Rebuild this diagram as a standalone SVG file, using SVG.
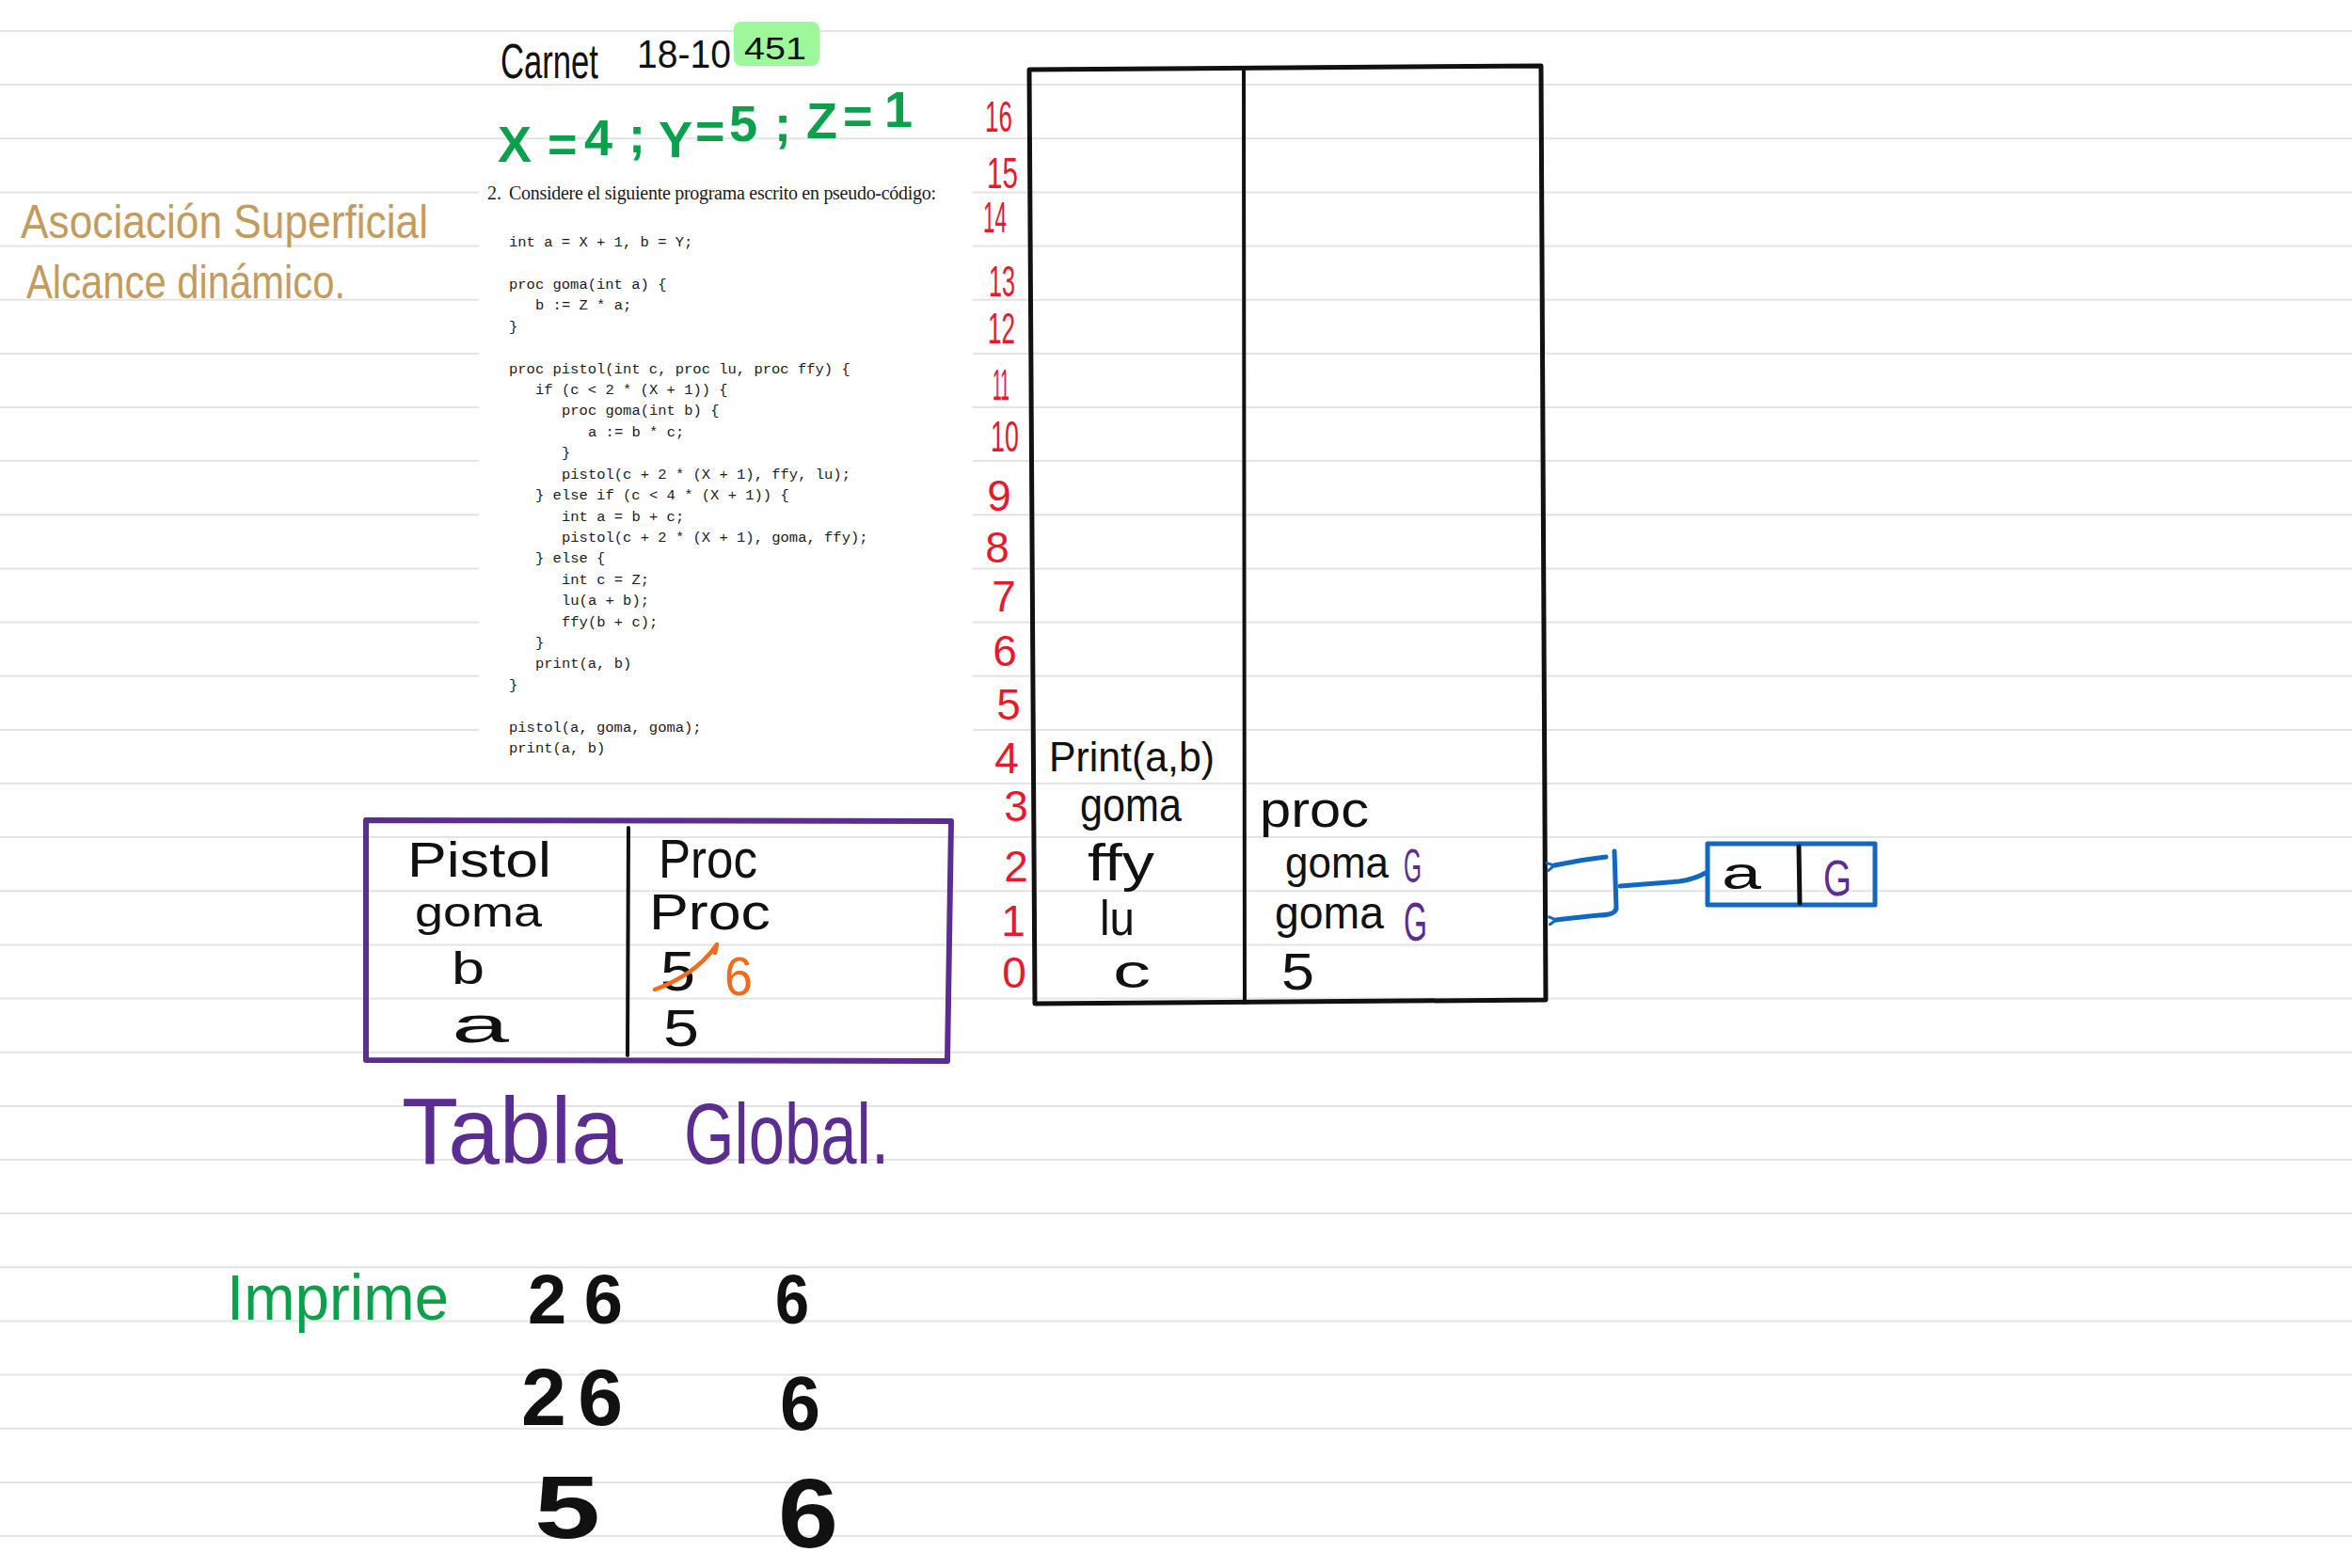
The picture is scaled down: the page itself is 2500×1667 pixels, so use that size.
<svg xmlns="http://www.w3.org/2000/svg" width="2500" height="1667" viewBox="0 0 2500 1667">
<defs>
<style>
.rule{stroke:#e4e4e4;stroke-width:2}
.hw{font-family:"Liberation Sans",Arial,sans-serif}
.k{fill:#111}
.red{fill:#e8192c}
.pur{fill:#5b2d91}
.grn{fill:#0ba14b}
.tan{fill:#c49b5e}
.org{fill:#f26a1b}
.mono{font-family:"Liberation Mono","Courier New",monospace;font-size:15.5px;fill:#1c1c1c}
.serif{font-family:"Liberation Serif","Times New Roman",serif;font-size:20px;fill:#1c1c1c}
.blk{fill:none;stroke:#111;stroke-linecap:round;stroke-linejoin:round}
.blue{fill:none;stroke:#1068c2;stroke-width:5;stroke-linecap:round;stroke-linejoin:round}
.purs{fill:none;stroke:#5b2d91;stroke-width:6;stroke-linecap:round;stroke-linejoin:round}
</style>
<marker id="hook" viewBox="-2 -6 12 12" markerWidth="12" markerHeight="12" refX="0" refY="0" orient="auto-start-reverse" markerUnits="userSpaceOnUse">
<path d="M7,-4 L0,0 L7,4" fill="none" stroke="#1068c2" stroke-width="3" stroke-linecap="round"/>
</marker>
</defs>
<rect width="2500" height="1667" fill="#fff"/>
<g id="ruled-lines">
<line class="rule" x1="0" y1="33" x2="2500" y2="33"/>
<line class="rule" x1="0" y1="90.1" x2="2500" y2="90.1"/>
<line class="rule" x1="0" y1="147.3" x2="2500" y2="147.3"/>
<line class="rule" x1="0" y1="204.4" x2="2500" y2="204.4"/>
<line class="rule" x1="0" y1="261.6" x2="2500" y2="261.6"/>
<line class="rule" x1="0" y1="318.7" x2="2500" y2="318.7"/>
<line class="rule" x1="0" y1="375.9" x2="2500" y2="375.9"/>
<line class="rule" x1="0" y1="433" x2="2500" y2="433"/>
<line class="rule" x1="0" y1="490.1" x2="2500" y2="490.1"/>
<line class="rule" x1="0" y1="547.3" x2="2500" y2="547.3"/>
<line class="rule" x1="0" y1="604.4" x2="2500" y2="604.4"/>
<line class="rule" x1="0" y1="661.6" x2="2500" y2="661.6"/>
<line class="rule" x1="0" y1="718.7" x2="2500" y2="718.7"/>
<line class="rule" x1="0" y1="775.9" x2="2500" y2="775.9"/>
<line class="rule" x1="0" y1="833" x2="2500" y2="833"/>
<line class="rule" x1="0" y1="890.1" x2="2500" y2="890.1"/>
<line class="rule" x1="0" y1="947.3" x2="2500" y2="947.3"/>
<line class="rule" x1="0" y1="1004.4" x2="2500" y2="1004.4"/>
<line class="rule" x1="0" y1="1061.6" x2="2500" y2="1061.6"/>
<line class="rule" x1="0" y1="1118.7" x2="2500" y2="1118.7"/>
<line class="rule" x1="0" y1="1175.9" x2="2500" y2="1175.9"/>
<line class="rule" x1="0" y1="1233" x2="2500" y2="1233"/>
<line class="rule" x1="0" y1="1290.1" x2="2500" y2="1290.1"/>
<line class="rule" x1="0" y1="1347.3" x2="2500" y2="1347.3"/>
<line class="rule" x1="0" y1="1404.4" x2="2500" y2="1404.4"/>
<line class="rule" x1="0" y1="1461.6" x2="2500" y2="1461.6"/>
<line class="rule" x1="0" y1="1518.7" x2="2500" y2="1518.7"/>
<line class="rule" x1="0" y1="1575.9" x2="2500" y2="1575.9"/>
<line class="rule" x1="0" y1="1633" x2="2500" y2="1633"/>
</g>

<g id="header">
<rect x="780" y="23" width="91" height="47" rx="8" fill="#9ef79a"/>
<text class="hw k" x="532" y="83" font-size="52" textLength="104" lengthAdjust="spacingAndGlyphs">Carnet</text>
<text class="hw k" x="677" y="72" font-size="42" textLength="100" lengthAdjust="spacingAndGlyphs">18-10</text>
<text class="hw k" x="791" y="63" font-size="33" textLength="66" lengthAdjust="spacingAndGlyphs">451</text>
<text class="hw grn" font-size="54" font-weight="700" x="529 582 621 668" y="172 172 165 162">X=4;</text>
<text class="hw grn" font-size="54" font-weight="700" x="700 739 775 823" y="167 158 150 150">Y=5;</text>
<text class="hw grn" font-size="54" font-weight="700" x="857 896 940" y="147 142 135">Z=1</text>
</g>

<g id="note">
<text class="hw tan" x="22" y="253" font-size="50" textLength="433" lengthAdjust="spacingAndGlyphs">Asociación Superficial</text>
<text class="hw tan" x="28" y="317" font-size="50" textLength="339" lengthAdjust="spacingAndGlyphs">Alcance dinámico.</text>
</g>

<g id="code">
<rect x="509" y="185" width="525" height="630" fill="#fff"/>
<text class="serif" x="518" y="212">2.</text>
<text class="serif" x="541" y="212" textLength="454" lengthAdjust="spacing">Considere el siguiente programa escrito en pseudo-código:</text>
<text class="mono" x="541" y="262">int a = X + 1, b = Y;</text>
<text class="mono" x="541" y="306.8">proc goma(int a) {</text>
<text class="mono" x="569" y="329.3">b := Z * a;</text>
<text class="mono" x="541" y="351.7">}</text>
<text class="mono" x="541" y="396.5">proc pistol(int c, proc lu, proc ffy) {</text>
<text class="mono" x="569" y="418.9">if (c &lt; 2 * (X + 1)) {</text>
<text class="mono" x="597" y="441.4">proc goma(int b) {</text>
<text class="mono" x="625" y="463.8">a := b * c;</text>
<text class="mono" x="597" y="486.2">}</text>
<text class="mono" x="597" y="508.6">pistol(c + 2 * (X + 1), ffy, lu);</text>
<text class="mono" x="569" y="531">} else if (c &lt; 4 * (X + 1)) {</text>
<text class="mono" x="597" y="553.5">int a = b + c;</text>
<text class="mono" x="597" y="575.9">pistol(c + 2 * (X + 1), goma, ffy);</text>
<text class="mono" x="569" y="598.3">} else {</text>
<text class="mono" x="597" y="620.7">int c = Z;</text>
<text class="mono" x="597" y="643.1">lu(a + b);</text>
<text class="mono" x="597" y="665.6">ffy(b + c);</text>
<text class="mono" x="569" y="688">}</text>
<text class="mono" x="569" y="710.4">print(a, b)</text>
<text class="mono" x="541" y="732.8">}</text>
<text class="mono" x="541" y="777.7">pistol(a, goma, goma);</text>
<text class="mono" x="541" y="800.1">print(a, b)</text>
</g>

<g id="stack-indices" class="hw red" font-size="46">
<text x="1047" y="140" textLength="29" lengthAdjust="spacingAndGlyphs">16</text>
<text x="1049" y="200" textLength="33" lengthAdjust="spacingAndGlyphs">15</text>
<text x="1045" y="247" textLength="25" lengthAdjust="spacingAndGlyphs">14</text>
<text x="1051" y="315" textLength="28" lengthAdjust="spacingAndGlyphs">13</text>
<text x="1050" y="365" textLength="29" lengthAdjust="spacingAndGlyphs">12</text>
<text x="1055" y="425" textLength="18" lengthAdjust="spacingAndGlyphs">11</text>
<text x="1053" y="480" textLength="30" lengthAdjust="spacingAndGlyphs">10</text>
<g text-anchor="middle">
<text x="1062" y="543">9</text>
<text x="1060" y="598">8</text>
<text x="1067" y="650">7</text>
<text x="1068" y="708">6</text>
<text x="1072" y="765">5</text>
<text x="1070" y="822">4</text>
<text x="1080" y="873">3</text>
<text x="1080" y="937">2</text>
<text x="1077" y="995">1</text>
<text x="1078" y="1050">0</text>
</g>
</g>

<g id="stack">
<path class="blk" stroke-width="5" d="M1094,74 L1638,70 L1643,1063 L1100,1067 Z"/>
<path class="blk" stroke-width="4" d="M1322,72 L1323,1066"/>
<text class="hw k" x="1115" y="820" font-size="44" textLength="176" lengthAdjust="spacingAndGlyphs">Print(a,b)</text>
<text class="hw k" x="1148" y="873" font-size="50" textLength="108" lengthAdjust="spacingAndGlyphs">goma</text>
<text class="hw k" x="1156" y="936" font-size="56" textLength="71" lengthAdjust="spacingAndGlyphs">ffy</text>
<text class="hw k" x="1169" y="994" font-size="52" textLength="37" lengthAdjust="spacingAndGlyphs">lu</text>
<text class="hw k" x="1183" y="1050" font-size="50" textLength="40" lengthAdjust="spacingAndGlyphs">c</text>
<text class="hw k" x="1339" y="879" font-size="54" textLength="116" lengthAdjust="spacingAndGlyphs">proc</text>
<text class="hw k" x="1366" y="933" font-size="46" textLength="110" lengthAdjust="spacingAndGlyphs">goma</text>
<text class="hw pur" x="1492" y="938" font-size="50" textLength="19" lengthAdjust="spacingAndGlyphs">G</text>
<text class="hw k" x="1355" y="987" font-size="48" textLength="116" lengthAdjust="spacingAndGlyphs">goma</text>
<text class="hw pur" x="1492" y="1000" font-size="58" textLength="25" lengthAdjust="spacingAndGlyphs">G</text>
<text class="hw k" x="1362" y="1052" font-size="56" textLength="35" lengthAdjust="spacingAndGlyphs">5</text>
</g>

<g id="connectors">
<path class="blue" marker-start="url(#hook)" d="M1652,920 Q1680,914 1707,911"/>
<path class="blue" marker-end="url(#hook)" d="M1716,905 L1718,966 Q1716,973 1700,973 Q1680,975 1654,978"/>
<path class="blue" d="M1722,942 L1785,937 Q1800,935 1813,928"/>
</g>

<g id="heap-cell">
<path class="blue" d="M1815,897 L1993,897 L1993,962 L1815,962 Z"/>
<path class="blk" stroke-width="5" d="M1912,900 L1913,960"/>
<text class="hw k" x="1830" y="945" font-size="48" textLength="42" lengthAdjust="spacingAndGlyphs">a</text>
<text class="hw pur" x="1938" y="952" font-size="54" textLength="30" lengthAdjust="spacingAndGlyphs">G</text>
</g>

<g id="global-table">
<path class="purs" d="M389,872 L1011,873 L1007,1128 L389,1127 Z"/>
<path class="blk" stroke-width="4" d="M668,880 L667,1122"/>
<text class="hw k" x="433" y="932" font-size="52" textLength="153" lengthAdjust="spacingAndGlyphs">Pistol</text>
<text class="hw k" x="441" y="985" font-size="45" textLength="135" lengthAdjust="spacingAndGlyphs">goma</text>
<text class="hw k" x="480" y="1046" font-size="48" textLength="35" lengthAdjust="spacingAndGlyphs">b</text>
<text class="hw k" x="480" y="1108" font-size="54" textLength="61" lengthAdjust="spacingAndGlyphs">a</text>
<text class="hw k" x="700" y="933" font-size="58" textLength="105" lengthAdjust="spacingAndGlyphs">Proc</text>
<text class="hw k" x="690" y="988" font-size="54" textLength="129" lengthAdjust="spacingAndGlyphs">Proc</text>
<text class="hw k" x="702" y="1053" font-size="60" textLength="37" lengthAdjust="spacingAndGlyphs">5</text>
<path d="M696,1052 Q740,1036 762,1004 L760,1013" fill="none" stroke="#f26a1b" stroke-width="4.5" stroke-linecap="round" stroke-linejoin="round"/>
<text class="hw org" x="770" y="1058" font-size="58" textLength="30" lengthAdjust="spacingAndGlyphs">6</text>
<text class="hw k" x="705" y="1112" font-size="56" textLength="38" lengthAdjust="spacingAndGlyphs">5</text>
</g>

<g id="table-title">
<text class="hw pur" x="427" y="1237" font-size="100" textLength="235" lengthAdjust="spacingAndGlyphs">Tabla</text>
<text class="hw pur" x="727" y="1237" font-size="90" textLength="218" lengthAdjust="spacingAndGlyphs">Global.</text>
</g>

<g id="output">
<text class="hw grn" x="241" y="1403" font-size="68" textLength="236" lengthAdjust="spacingAndGlyphs">Imprime</text>
<text class="hw k" x="561" y="1407" font-size="74" font-weight="700" textLength="101" lengthAdjust="spacing">26</text>
<text class="hw k" x="824" y="1407" font-size="74" font-weight="700" textLength="36" lengthAdjust="spacingAndGlyphs">6</text>
<text class="hw k" x="554" y="1515" font-size="86" font-weight="700" textLength="108" lengthAdjust="spacing">26</text>
<text class="hw k" x="829" y="1520" font-size="82" font-weight="700" textLength="43" lengthAdjust="spacingAndGlyphs">6</text>
<text class="hw k" x="568" y="1635" font-size="94" font-weight="700" textLength="70" lengthAdjust="spacingAndGlyphs">5</text>
<text class="hw k" x="827" y="1645" font-size="104" font-weight="700" textLength="64" lengthAdjust="spacingAndGlyphs">6</text>
</g>
</svg>
